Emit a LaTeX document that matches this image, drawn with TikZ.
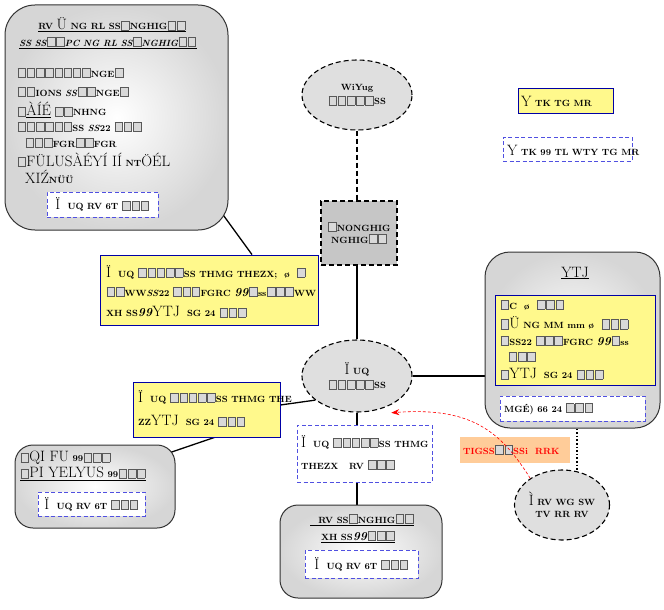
\documentclass[tikz,border=0pt]{standalone}
\usepackage{fontspec}
\usetikzlibrary{shapes.geometric,arrows.meta}
\pgfdeclarelayer{bg}
\pgfsetlayers{bg,main}
\newcommand{\qb}{\kern0.5pt{\fboxsep=0pt\fboxrule=0.6pt\fcolorbox{black!65}{gray!30}{\rule{0pt}{8.5pt}\kern7pt}}\kern0.5pt}
\newcommand{\bg}[1]{{\fontsize{15}{15}\selectfont\mdseries #1}}
\definecolor{dblue}{RGB}{80,80,225}
\begin{document}
\begin{tikzpicture}[x=1pt,y=-1pt,
  font=\fontsize{9}{10}\selectfont\bfseries,
  gbox/.style={draw=black!80, line width=1pt, inner color=white, outer color=gray!32, inner sep=0pt},
  ybox/.style={draw=blue!65!black, fill=yellow!45, line width=0.8pt, inner sep=0pt},
  dbox/.style={draw=dblue, dash pattern=on 4pt off 2.5pt, fill=white, line width=1pt, inner sep=0pt},
  dell/.style={ellipse, draw, dash pattern=on 5pt off 3pt, fill=gray!25, line width=1.1pt, inner sep=0pt, align=center},
  conn/.style={line width=1.3pt},
  txt/.style={anchor=west, inner sep=0pt}]
\useasboundingbox (0,0) rectangle (664,610);
% ---------- boxes ----------
\node[gbox, rounded corners=30pt, minimum width=223pt, minimum height=225pt] (tl) at (116.5,117.5) {};
\node[dell, minimum width=110pt, minimum height=70pt] (te) at (357,95) {WiYug\\[2pt]\qb\qb\qb\qb\qb SS};
\node[draw, dash pattern=on 5pt off 3pt, fill=gray!45, line width=1.1pt, minimum width=76pt, minimum height=64pt, align=center] (sq) at (359,233) {\qb NONGHIG\\[2pt]NGHIG\qb\qb};
\node[dell, minimum width=110pt, minimum height=72pt] (ce) at (357,376) {\bg{Ï} UQ\\[2pt]\qb\qb\qb\qb\qb SS};
\node[ybox, minimum width=95pt, minimum height=25pt] (ly) at (565.5,100.5) {};
\node[txt] at (521,101) {\bg{Y} TK TG MR};
\node[dbox, minimum width=129pt, minimum height=24pt] (ld) at (567.5,149) {};
\node[txt] at (507,150) {\bg{Y} TK 99 TL WTY TG MR};
\node[ybox, minimum width=218pt, minimum height=70pt] (y1) at (209,290) {};
\node[gbox, rounded corners=25pt, minimum width=175pt, minimum height=176pt] (rb) at (572.5,340) {};
\node[ybox, minimum width=160pt, minimum height=90pt] (ry) at (575,340) {};
\node[dbox, minimum width=145pt, minimum height=25pt] (rd) at (572.5,408.5) {};
\node[ybox, minimum width=147pt, minimum height=55pt] (y2) at (206.5,409.5) {};
\node[gbox, rounded corners=18pt, minimum width=160pt, minimum height=83pt] (bl) at (95,486.5) {};
\node[dbox, minimum width=135pt, minimum height=57pt] (md) at (364.5,453.5) {};
\node[gbox, rounded corners=18pt, minimum width=162pt, minimum height=93pt] (bb) at (361,551.5) {};
\node[fill=orange!40, minimum width=110pt, minimum height=26pt, inner sep=0pt] (or) at (515,450) {};
\node[txt, text=red] at (463,450) {TIGSS\qb\qb SSi \ RRK};
\node[dell, minimum width=95pt, minimum height=70pt] (be) at (562,505) {\bg{Ì} RV WG SW\\[2pt]TV RR RV};
% ---------- connectors ----------
\coordinate (tlc) at (205,190);
\coordinate (blc) at (160,456);
\coordinate (bec) at (577,478);
\begin{pgfonlayer}{bg}
\draw[conn, dash pattern=on 5pt off 3pt] (te.south) -- (te.south |- sq.north);
\draw[conn] (te.south |- sq.south) -- (ce.north);
\draw[conn] ([xshift=43pt]y1.north) -- (tlc);
\draw[conn] (ce.east) -- (ce.east -| rb.west);
\draw[conn] (ce.210) -- ([yshift=4.5pt]y2.east);
\draw[conn] ([xshift=8pt]y2.south) -- (blc);
\draw[conn] (ce.south) -- (ce.south |- md.north);
\draw[conn] (ce.south |- md.south) -- (ce.south |- bb.north);
\draw[line width=1.6pt, dotted] ([xshift=4.5pt]rb.south) -- (bec);
\end{pgfonlayer}
\draw[red, dash pattern=on 3pt off 2pt, line width=0.6pt, -{Stealth[length=8pt,width=6pt]}] (be.140) .. controls (500,430) and (470,407) .. ([yshift=-8pt]ce.-40);
% ---------- texts: top-left ----------
\node[inner sep=0pt] at (112,25) {\underline{RV \bg{Ü} NG RL SS\qb NGHIG\qb\qb}};
\node[inner sep=0pt] at (108,43) {\underline{\itshape SS SS\qb\qb PC NG RL SS\qb NGHIG\qb\qb}};
\node[txt] at (17,73) {\qb\qb\qb\qb\qb\qb\qb\qb NGE\qb};
\node[txt] at (17,92) {\qb\qb IONS \textit{SS}\qb\qb NGE\qb};
\node[txt] at (17,110) {\qb\underline{\bg{ÀÍÉ}} \qb\qb NHNG};
\node[txt] at (17,127) {\qb\qb\qb\qb\qb\qb SS \textit{SS}22 \qb\qb\qb};
\node[txt] at (25,143) {\qb\qb\qb FGR\qb\qb FGR};
\node[txt] at (17,160) {\qb\bg{FÜLUSÀÉYÍ IÍ} NT\bg{ÖÉL}};
\node[txt] at (25,177) {\bg{XIŹ}NÜÜ};
\node[dbox, minimum width=111pt, minimum height=25pt] (tld) at (102.5,204.5) {\bg{Ï} \ UQ RV 6T \qb\qb\qb};
% ---------- y1 ----------
\node[txt] at (106,272) {\bg{Ï} \ UQ \qb\qb\qb\qb\qb SS THMG THEZX; \ ø \ \qb};
\node[txt] at (106,292) {\qb\qb WW\textit{SS}22 \qb\qb\qb FGRC \textit{\large 99}\qb ss\qb\qb\qb WW};
\node[txt] at (106,312) {XH SS\textit{\large 99}\bg{YTJ} \ SG 24 \qb\qb\qb};
% ---------- right box ----------
\node[inner sep=0pt] at (575,273) {\bg{\underline{YTJ}}};
\node[txt] at (500,305) {\qb C \ ø \ \qb\qb\qb};
\node[txt] at (500,323) {\qb\bg{Ü} NG MM mm ø \ \qb\qb\qb};
\node[txt] at (500,341) {\qb SS22 \qb\qb\qb FGRC \textit{\large 99}\qb ss};
\node[txt] at (508,357) {\qb\qb\qb};
\node[txt] at (500,374) {\qb\bg{YTJ} \ SG 24 \qb\qb\qb};
\node[txt] at (504,409) {MGÉ\textsc{)} 66 24 \qb\qb\qb};
% ---------- y2 ----------
\node[txt] at (138,397) {\bg{Ï} \ UQ \qb\qb\qb\qb\qb SS THMG THE};
\node[txt] at (138,421) {ZZ\bg{YTJ} \ SG 24 \qb\qb\qb};
% ---------- middle dashed ----------
\node[txt] at (301,442) {\bg{Ï} \ UQ \qb\qb\qb\qb\qb SS THMG};
\node[txt] at (301,465) {THEZX \ \ RV \qb\qb\qb};
% ---------- bottom-left ----------
\node[txt] at (20,458) {\qb\bg{QI FU} 99\qb\qb\qb};
\node[txt] at (20,474) {\underline{\qb\bg{PI YELYUS} 99\qb\qb\qb}};
\node[dbox, minimum width=107pt, minimum height=24pt] (bld) at (91.5,504) {\bg{Ï} \ UQ RV 6T \qb\qb\qb};
% ---------- bottom ----------
\node[inner sep=0pt] at (362,520) {\underline{\hspace{8pt}RV SS\qb NGHIG\qb\qb}};
\node[inner sep=0pt] at (358,537) {\underline{XH SS\textit{\large 99}\qb\qb\qb}};
\node[dbox, minimum width=113pt, minimum height=28pt] (bbd) at (361.5,564) {\bg{Ï} \ UQ RV 6T \qb\qb\qb};
\end{tikzpicture}
\end{document}
